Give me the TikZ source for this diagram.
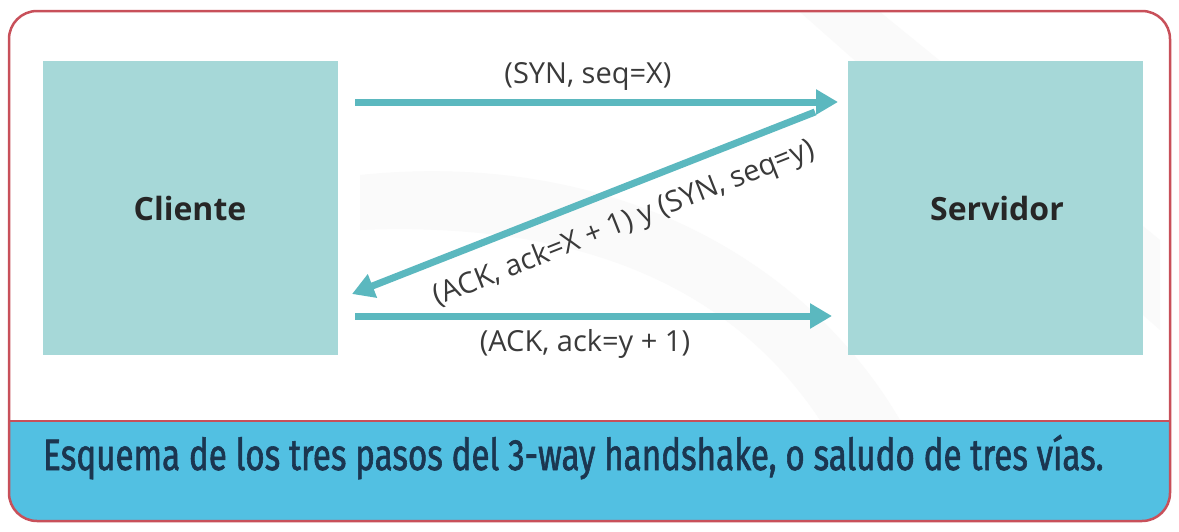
\documentclass[tikz,border=0pt]{standalone}
\usepackage{fontspec}
\setmainfont{Open Sans}
\newfontfamily\capfont{Fira Sans}[FakeStretch=0.755,FakeBold=1.3]
\usetikzlibrary{arrows.meta}
\definecolor{frame}{HTML}{C8505A}
\definecolor{boxfill}{HTML}{A6D8D8}
\definecolor{arrowc}{HTML}{5BB8BF}
\definecolor{band}{HTML}{52C0E2}
\definecolor{captxt}{HTML}{1B3650}
\definecolor{lbl}{HTML}{3A3A3A}
\begin{document}
\begin{tikzpicture}[x=1pt,y=-1pt,
  hostbox/.style={fill=boxfill, draw=none, minimum width=295pt, minimum height=294pt, inner sep=0pt},
  hostlbl/.style={font=\fontsize{32}{36}\selectfont\bfseries, text=black!85},
  msg/.style={draw=arrowc, line width=7pt, -{Triangle[length=22pt,width=24pt]}},
  msglbl/.style={font=\fontsize{29}{32}\selectfont, text=lbl, inner sep=2pt}]
\useasboundingbox (0,0) rectangle (1179,531);
\fill[white] (0,0) rectangle (1179,531);
% faint background swoosh
\fill[black!2] (800,12) -- (880,12) -- (1160,240) -- (1160,330) -- cycle;
\fill[black!2] (360,175) .. controls (600,150) and (800,250) .. (900,420) -- (820,420) .. controls (740,300) and (600,220) .. (360,230) -- cycle;
% blue band
\fill[band, rounded corners=28pt] (9,440) -- (9,521) -- (1170,521) -- (1170,440) -- cycle;
\fill[band] (9,421) rectangle (1170,460);
% frame
\draw[frame, line width=2.5pt, rounded corners=28pt] (9,11) rectangle (1170,521);
\draw[frame, line width=2.5pt] (9,421) -- (1170,421);
% hosts
\node[hostbox] (cli) at (190,208) {};
\node[hostbox] (srv) at (995,208) {};
\node[hostlbl] (clit) at (190,208) {Cliente};
\node[hostlbl] (srvt) at (997,208) {Servidor};
\coordinate (a1s) at (355,102);
\coordinate (a1e) at (838,102);
\coordinate (a2s) at (815,112);
\coordinate (a2e) at (352,294);
\coordinate (a3s) at (355,316);
\coordinate (a3e) at (832,316);
\draw[msg] (a1s) -- (a1e);
\draw[msg] (a2s) -- (a2e);
\draw[msg] (a3s) -- (a3e);
\node[msglbl] (l1) at (588,76) {(SYN, seq=X)};
\node[msglbl] (l3) at (585,344) {(ACK, ack=y + 1)};
\node[msglbl, rotate=21.6] (l2) at (624,224) {(ACK, ack=X + 1) y (SYN, seq=y)};
% caption
\node[font=\capfont\fontsize{44}{48}\selectfont, text=captxt, anchor=base west, inner sep=0pt] (cap) at (43,470) {Esquema de los tres pasos del 3-way handshake, o saludo de tres vías.};
\end{tikzpicture}
\end{document}
